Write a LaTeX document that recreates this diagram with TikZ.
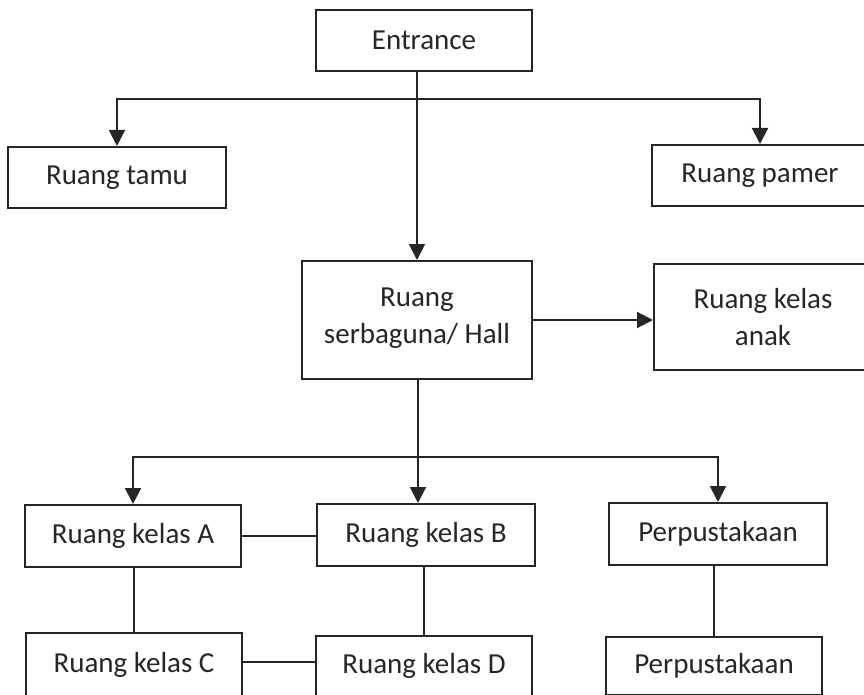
\documentclass[tikz,border=0pt]{standalone}
\usepackage{fontspec}
\setmainfont{Carlito}
\usetikzlibrary{arrows.meta}
\definecolor{ink}{HTML}{262626}
\begin{document}
\begin{tikzpicture}[x=1pt,y=-1pt,
  box/.style={draw=ink,line width=2pt,rectangle,inner sep=0pt,align=center,
    text=ink,font=\fontsize{29}{37}\selectfont},
  link/.style={draw=ink,line width=2pt},
  arr/.style={link,-{Triangle[width=16pt,length=16pt]}}]
\useasboundingbox (0,0) rectangle (864,695);
\begin{scope}
\clip (0,0) rectangle (864,695);
% row 1
\node[box,minimum width=216pt,minimum height=61pt] (entrance) at (424,40.5) {Entrance};
% row 2
\node[box,minimum width=218pt,minimum height=61pt] (tamu) at (117,177.5) {Ruang tamu};
\node[box,minimum width=216pt,minimum height=61pt] (pamer) at (760,175.5) {Ruang pamer};
% row 3
\node[box,minimum width=230pt,minimum height=118pt] (hall) at (417,320) {Ruang\\serbaguna/ Hall\\[-29pt]};
\node[box,minimum width=218pt,minimum height=106pt] (anak) at (763,317) {Ruang kelas\\anak};
% row 4
\node[box,minimum width=216pt,minimum height=62pt] (kA) at (133,536) {Ruang kelas A};
\node[box,minimum width=218pt,minimum height=62pt] (kB) at (426,535) {Ruang kelas B};
\node[box,minimum width=218pt,minimum height=62pt] (perp) at (718,534) {Perpustakaan};
% row 5 (cut by the page edge)
\node[box,minimum width=216pt,minimum height=64pt] (kC) at (134,665) {Ruang kelas C};
\node[box,minimum width=216pt,minimum height=60pt] (kD) at (424,666) {Ruang kelas D};
\node[box,minimum width=216pt,minimum height=58pt] (perpb) at (714,666) {Perpustakaan};
\end{scope}
% junctions
\coordinate (j1) at (417,99);
\coordinate (j2) at (418,457);
% connectors
\draw[arr] (hall.north |- entrance.south) -- (hall.north);
\draw[arr] (j1) -| (tamu.north);
\draw[arr] (j1) -| (pamer.north);
\draw[arr] (hall.east) -- (anak.west |- hall.east);
\draw[link] (j2 |- hall.south) -- (j2);
\draw[arr] (j2) -| (kA.north);
\draw[arr] (j2) -- (j2 |- kB.north);
\draw[arr] (j2) -| (perp.north);
\draw[link] (kA.east) -- (kB.west |- kA.east);
\draw[link] (kA.south -| kC.north) -- (kC.north);
\draw[link] (kD.north |- kB.south) -- (kD.north);
\draw[link] (perpb.north |- perp.south) -- (perpb.north);
\draw[link] (kC.east |- 0,662) -- (kD.west |- 0,662);
\end{tikzpicture}
\end{document}
